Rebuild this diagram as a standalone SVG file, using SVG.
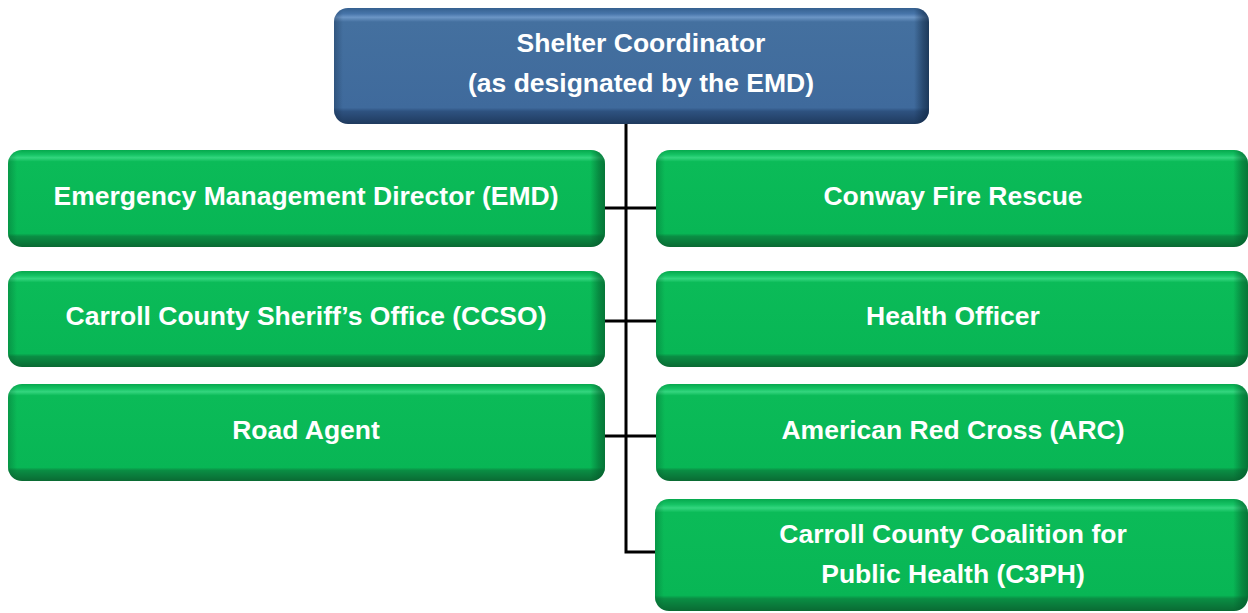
<svg xmlns="http://www.w3.org/2000/svg" width="1248" height="613" viewBox="0 0 1248 613">
<defs>
<linearGradient id="gV" x1="0" y1="0" x2="0" y2="1">
<stop offset="0" stop-color="#06a84d"/>
<stop offset="0.05" stop-color="#16c465"/>
<stop offset="0.08" stop-color="#34d67f"/>
<stop offset="0.12" stop-color="#0bbb58"/>
<stop offset="0.86" stop-color="#08b655"/>
<stop offset="0.89" stop-color="#0a8e44"/>
<stop offset="1" stop-color="#0a6a33"/>
</linearGradient>
<linearGradient id="gH" x1="0" y1="0" x2="1" y2="0">
<stop offset="0" stop-color="#04592a" stop-opacity="0.35"/>
<stop offset="0.015" stop-color="#04592a" stop-opacity="0"/>
<stop offset="0.975" stop-color="#04592a" stop-opacity="0"/>
<stop offset="0.99" stop-color="#04592a" stop-opacity="0.5"/>
<stop offset="1" stop-color="#04592a" stop-opacity="0.7"/>
</linearGradient>
<linearGradient id="bV" x1="0" y1="0" x2="0" y2="1">
<stop offset="0" stop-color="#35608f"/>
<stop offset="0.05" stop-color="#4775aa"/>
<stop offset="0.08" stop-color="#6c96c6"/>
<stop offset="0.12" stop-color="#44709f"/>
<stop offset="0.86" stop-color="#3f6a9c"/>
<stop offset="0.89" stop-color="#2e5280"/>
<stop offset="1" stop-color="#1f3a5e"/>
</linearGradient>
<linearGradient id="bH" x1="0" y1="0" x2="1" y2="0">
<stop offset="0" stop-color="#112844" stop-opacity="0.35"/>
<stop offset="0.015" stop-color="#112844" stop-opacity="0"/>
<stop offset="0.975" stop-color="#112844" stop-opacity="0"/>
<stop offset="0.99" stop-color="#112844" stop-opacity="0.5"/>
<stop offset="1" stop-color="#112844" stop-opacity="0.75"/>
</linearGradient>
</defs>
<style>
.g{fill:url(#gV)}
.gh{fill:url(#gH)}
.b{fill:url(#bV)}
.bh{fill:url(#bH)}
.t{font-family:"Liberation Sans",Arial,sans-serif;font-weight:bold;font-size:26.5px;fill:#ffffff;text-anchor:middle}
.c{stroke:#000;stroke-width:3;fill:none}
</style>
<g id="connectors">
<path class="c" d="M626 124 V552 H657"/>
<path class="c" d="M604 208 H657"/>
<path class="c" d="M604 321 H657"/>
<path class="c" d="M604 436 H657"/>
</g>
<g id="shelter-coordinator">
<rect class="b" x="334" y="8" width="595" height="116" rx="14"/>
<rect class="bh" x="334" y="8" width="595" height="116" rx="14"/>
<text class="t" x="641" y="52">Shelter Coordinator</text>
<text class="t" x="641" y="92">(as designated by the EMD)</text>
</g>
<g id="emd">
<rect class="g" x="8" y="150" width="597" height="97" rx="14"/>
<rect class="gh" x="8" y="150" width="597" height="97" rx="14"/>
<text class="t" x="306" y="205">Emergency Management Director (EMD)</text>
</g>
<g id="ccso">
<rect class="g" x="8" y="271" width="597" height="96" rx="14"/>
<rect class="gh" x="8" y="271" width="597" height="96" rx="14"/>
<text class="t" x="306" y="325">Carroll County Sheriff’s Office (CCSO)</text>
</g>
<g id="road-agent">
<rect class="g" x="8" y="384" width="597" height="97" rx="14"/>
<rect class="gh" x="8" y="384" width="597" height="97" rx="14"/>
<text class="t" x="306" y="439">Road Agent</text>
</g>
<g id="conway-fire">
<rect class="g" x="656" y="150" width="592" height="97" rx="14"/>
<rect class="gh" x="656" y="150" width="592" height="97" rx="14"/>
<text class="t" x="953" y="205">Conway Fire Rescue</text>
</g>
<g id="health-officer">
<rect class="g" x="656" y="271" width="592" height="96" rx="14"/>
<rect class="gh" x="656" y="271" width="592" height="96" rx="14"/>
<text class="t" x="953" y="325">Health Officer</text>
</g>
<g id="arc">
<rect class="g" x="656" y="384" width="592" height="97" rx="14"/>
<rect class="gh" x="656" y="384" width="592" height="97" rx="14"/>
<text class="t" x="953" y="439">American Red Cross (ARC)</text>
</g>
<g id="c3ph">
<rect class="g" x="655" y="499" width="593" height="112" rx="14"/>
<rect class="gh" x="655" y="499" width="593" height="112" rx="14"/>
<text class="t" x="953" y="543">Carroll County Coalition for</text>
<text class="t" x="953" y="583">Public Health (C3PH)</text>
</g>
</svg>
